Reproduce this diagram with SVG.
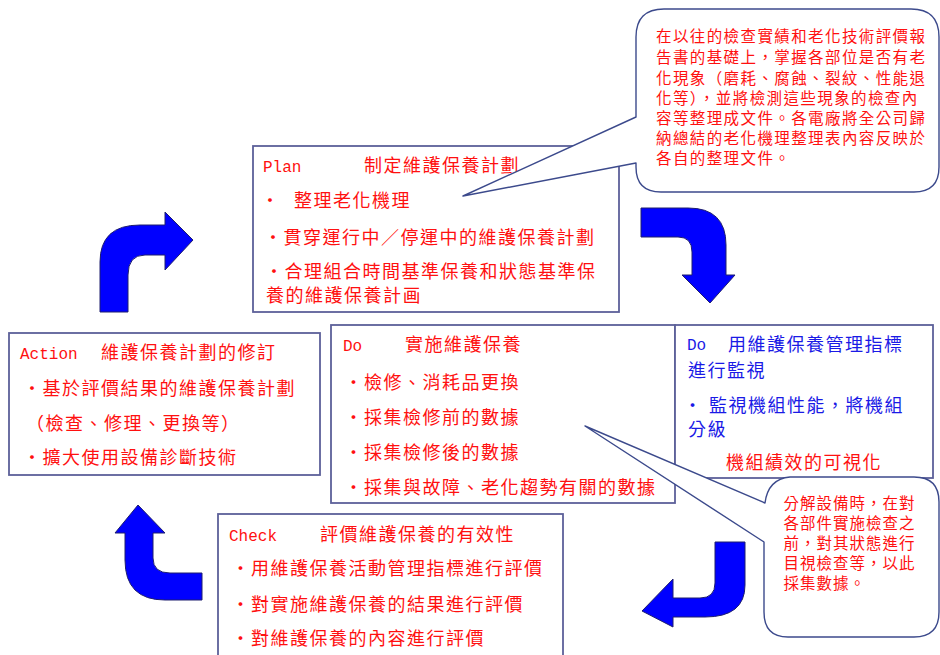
<svg xmlns="http://www.w3.org/2000/svg" width="940" height="655" viewBox="0 0 940 655">
<style>
.box{fill:#fff;stroke:#5c6099;stroke-width:1.8}
.call{fill:#fff;stroke:#3c4a8c;stroke-width:1.4;stroke-linejoin:round}
.t{font-family:"Noto Sans CJK TC","Noto Sans CJK SC",sans-serif;font-size:18px;letter-spacing:1.5px;fill:#ff1010}
.n{font-family:"Noto Sans CJK TC","Noto Sans CJK SC",sans-serif;font-size:15.5px;fill:#ff1010;letter-spacing:1.4px}
.s{letter-spacing:1px}
.m{font-family:"Liberation Mono",monospace;font-size:16px;fill:#ff1010}
.b{fill:#1a1ae6}
.arrow{fill:#0000ff;stroke:#1e1e6e;stroke-width:1}
</style>
<rect width="940" height="655" fill="#fff"/>

<g id="plan">
<rect class="box" x="253" y="146" width="366" height="166"/>
<text class="m" x="263" y="172">Plan</text>
<text class="t" x="364" y="172">制定維護保養計劃</text>
<text class="t" x="261" y="207">・<tspan dx="13.5">整理老化機理</tspan></text>
<text class="t" x="264" y="244">・貫穿運行中／停運中的維護保養計劃</text>
<text class="t" x="265" y="278">・合理組合時間基準保養和狀態基準保</text>
<text class="t" x="266" y="301.5">養的維護保養計画</text>
</g>

<g id="action">
<rect class="box" x="9" y="333" width="311" height="142"/>
<text class="m" x="20" y="359">Action</text>
<text class="t" x="101" y="359">維護保養計劃的修訂</text>
<text class="t" x="23" y="395">・基於評價結果的維護保養計劃</text>
<text class="t" x="26" y="430">（檢查、修理、更換等）</text>
<text class="t" x="23" y="464">・擴大使用設備診斷技術</text>
</g>

<g id="do">
<rect class="box" x="331" y="325" width="344" height="178"/>
<text class="m" x="343" y="351">Do</text>
<text class="t" x="405" y="351">實施維護保養</text>
<text class="t" x="344.5" y="389">・檢修、消耗品更換</text>
<text class="t" x="344.5" y="424">・採集檢修前的數據</text>
<text class="t" x="344.5" y="459">・採集檢修後的數據</text>
<text class="t" x="344.5" y="494">・採集與故障、老化趨勢有關的數據</text>
</g>

<g id="do-monitor">
<rect class="box" x="675" y="325" width="258" height="153"/>
<text class="m b" x="687" y="350">Do</text>
<text class="t b" x="728" y="350.5">用維護保養管理指標</text>
<text class="t b" x="688" y="376.5">進行監視</text>
<text class="t b" x="683.5" y="412">・<tspan dx="6">監視機組性能，將機組</tspan></text>
<text class="t b" x="688" y="435.5">分級</text>
<text class="t" x="726" y="469">機組績效的可視化</text>
</g>

<g id="check">
<rect class="box" x="218" y="514" width="345" height="150"/>
<text class="m" x="229" y="541">Check</text>
<text class="t" x="320" y="541">評價維護保養的有效性</text>
<text class="t" x="231.5" y="575">・用維護保養活動管理指標進行評價</text>
<text class="t" x="231.5" y="611">・對實施維護保養的結果進行評價</text>
<text class="t" x="231.5" y="645">・對維護保養的內容進行評價</text>
</g>

<g id="note-plan">
<path class="call" d="M664,9 H911 Q939,9 939,37 V167 Q939,192 914,192 H661 Q636,192 636,167 V163 L463,196 L636,117 V37 Q636,9 664,9 Z"/>
<text class="n" x="656" y="41.5">在以往的檢查實績和老化技術評價報</text>
<text class="n" x="656" y="63">告書的基礎上，掌握各部位是否有老</text>
<text class="n" x="656" y="83.5">化現象（磨耗、腐蝕、裂紋、性能退</text>
<text class="n" x="656" y="103.5">化等），並將檢測這些現象的檢查內</text>
<text class="n" x="656" y="123.5">容等整理成文件。各電廠將全公司歸</text>
<text class="n" x="656" y="143.5">納總結的老化機理整理表內容反映於</text>
<text class="n" x="656" y="163.5">各自的整理文件。</text>
</g>

<g id="note-do">
<path class="call" d="M790,477 H914 Q939,477 939,502 V612 Q939,637 914,637 H788 Q764,637 764,612 V542 L585,426 L765,503 Q768,479 790,477 Z"/>
<text class="n s" x="783.5" y="509">分解設備時，在對</text>
<text class="n s" x="783.5" y="529">各部件實施檢查之</text>
<text class="n s" x="783.5" y="549">前，對其狀態進行</text>
<text class="n s" x="783.5" y="569">目視檢查等，以此</text>
<text class="n s" x="783.5" y="589">採集數據。</text>
</g>

<g id="connectors">
<path class="arrow" d="M100,312 L100,262 Q100,225 140,225 L165,225 L165,212 L193,240 L165,270 L165,255 L145,255 Q128,255 128,275 L128,312 Z"/>
<path class="arrow" d="M641,208 L688,208 Q726,208 726,245 L726,275 L735,275 L710,303 L682,275 L692,275 L692,252 Q692,237 678,237 L641,237 Z"/>
<path class="arrow" d="M715,542 L745,542 L745,585 Q745,617 705,617 L673,617 L673,627 L642,611 L673,579 L673,598 L700,598 Q715,598 715,583 Z"/>
<path class="arrow" d="M125,533 L115,533 L138,505 L165,533 L153,533 L153,558 Q153,573 170,573 L202,573 L202,600 L165,600 Q125,600 125,560 Z"/>
</g>
</svg>
